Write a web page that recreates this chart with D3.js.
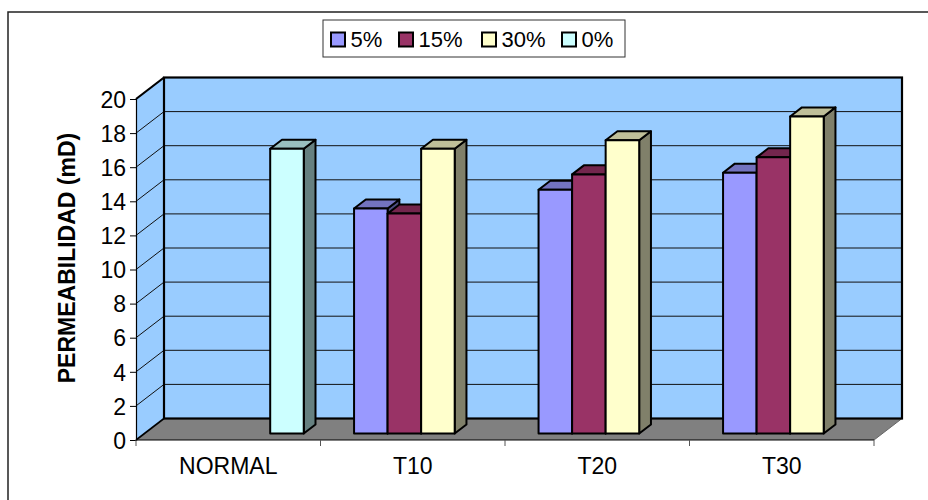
<!DOCTYPE html>
<html>
<head>
<meta charset="utf-8">
<script src="https://cdn.jsdelivr.net/npm/d3@7"></script>
<style>
  html, body { margin: 0; padding: 0; background: #fff; }
  svg { display: block; font-family: "Liberation Sans", Arial, sans-serif; }
</style>
</head>
<body>
<svg id="chart" width="928" height="500"></svg>
<script>
// Permeability by treatment, one series per concentration
const categories = ["NORMAL", "T10", "T20", "T30"];
const seriesNames = ["5%", "15%", "30%", "0%"];
const values5 = [null, 13.2, 14.3, 15.3];
const values15 = [null, 12.9, 15.2, 16.2];
const values30 = [null, 16.7, 17.2, 18.6];
const values0 = [16.7, null, null, null];
const yTicks = [0, 2, 4, 6, 8, 10, 12, 14, 16, 18, 20];
const yTitle = "PERMEABILIDAD (mD)";

const seriesValues = [values5, values15, values30, values0];
const seriesColors = [
  { front: "#9999FF", top: "#7373BF", side: "#4D4D80" },
  { front: "#993366", top: "#73264D", side: "#4D1A33" },
  { front: "#FFFFCC", top: "#BFBF99", side: "#80806A" },
  { front: "#CCFFFF", top: "#99BFBF", side: "#668080" }
];

const svg = d3.select("#chart");
const FONT = "'Liberation Sans', Arial, sans-serif";

// oblique depth of the plot box
const DX = 28, DY = 21.5;
// bar depth placement (fraction of box depth)
const BAR_FRONT = 0.30, BAR_DEPTH = 0.42;

const x = d3.scaleBand().domain(categories).range([136, 874]).paddingInner(0).paddingOuter(0);
const xs = d3.scaleBand().domain(seriesNames).range([0, x.bandwidth()]).paddingInner(0).paddingOuter(0.75);
const y = d3.scaleLinear().domain([0, 20]).range([440, 99]);

const x0 = x.range()[0], x1 = x.range()[1];
const poly = pts => pts.map(p => p.join(",")).join(" ");

// outer chart frame
svg.append("rect")
  .attr("x", 8).attr("y", 12).attr("width", 960).attr("height", 520)
  .attr("fill", "#fff").attr("stroke", "#222").attr("stroke-width", 1.5);

// floor
svg.append("polygon")
  .attr("points", poly([[x0, y(0)], [x0 + DX, y(0) - DY], [x1 + DX, y(0) - DY], [x1, y(0)]]))
  .attr("fill", "#808080").attr("stroke", "none");
svg.append("line")
  .attr("x1", x1).attr("y1", y(0)).attr("x2", x1 + DX).attr("y2", y(0) - DY)
  .attr("stroke", "#666").attr("stroke-width", 1);

// side wall
svg.append("polygon")
  .attr("points", poly([[x0, y(0)], [x0, y(20)], [x0 + DX, y(20) - DY], [x0 + DX, y(0) - DY]]))
  .attr("fill", "#99CCFF");

// back wall
svg.append("rect")
  .attr("x", x0 + DX).attr("y", y(20) - DY)
  .attr("width", x1 - x0).attr("height", y(0) - y(20))
  .attr("fill", "#99CCFF");

// gridlines on back wall and side wall
const grid = svg.append("g").attr("stroke", "#111").attr("stroke-width", 1);
grid.selectAll("line.back").data(yTicks.filter(v => v > 0 && v < 20)).join("line")
  .attr("class", "back")
  .attr("x1", x0 + DX).attr("x2", x1 + DX)
  .attr("y1", d => y(d) - DY).attr("y2", d => y(d) - DY);
grid.selectAll("line.side").data(yTicks.filter(v => v > 0)).join("line")
  .attr("class", "side")
  .attr("x1", x0).attr("x2", x0 + DX)
  .attr("y1", d => y(d)).attr("y2", d => y(d) - DY);

// wall edges
const edges = svg.append("g").attr("fill", "none").attr("stroke", "#000").attr("stroke-width", 2.2);
edges.append("rect")
  .attr("x", x0 + DX).attr("y", y(20) - DY)
  .attr("width", x1 - x0).attr("height", y(0) - y(20));
edges.append("line")
  .attr("x1", x0).attr("y1", y(20)).attr("x2", x0 + DX).attr("y2", y(20) - DY);
edges.append("line")
  .attr("x1", x0).attr("y1", y(0)).attr("x2", x0 + DX).attr("y2", y(0) - DY)
  .attr("stroke-width", 1.6);

// bars, painted left to right
const bars = [];
categories.forEach((c, ci) => {
  seriesNames.forEach((s, si) => {
    const v = seriesValues[si][ci];
    if (v == null) return;
    bars.push({ c, s, si, v });
  });
});

const fx = BAR_FRONT * DX, fy = BAR_FRONT * DY;
const dx = BAR_DEPTH * DX, dy = BAR_DEPTH * DY;
const barG = svg.append("g").attr("stroke", "#000").attr("stroke-width", 2).attr("stroke-linejoin", "round");
bars.forEach(b => {
  const xl = x(b.c) + xs(b.s) + fx;
  const xr = xl + xs.bandwidth();
  const yt = y(b.v) - fy;
  const yb = y(0) - fy;
  const col = seriesColors[b.si];
  const g = barG.append("g");
  g.append("polygon")
    .attr("points", poly([[xr, yt], [xr + dx, yt - dy], [xr + dx, yb - dy], [xr, yb]]))
    .attr("fill", col.side);
  g.append("polygon")
    .attr("points", poly([[xl, yt], [xl + dx, yt - dy], [xr + dx, yt - dy], [xr, yt]]))
    .attr("fill", col.top);
  g.append("rect")
    .attr("x", xl).attr("y", yt).attr("width", xr - xl).attr("height", yb - yt)
    .attr("fill", col.front);
});

// value axis
const yAxis = svg.append("g")
  .attr("transform", `translate(${x0},0)`)
  .call(d3.axisLeft(y).tickValues(yTicks).tickSize(6).tickPadding(4).tickFormat(d3.format("d")));
yAxis.select(".domain").attr("stroke", "#000").attr("stroke-width", 1.2);
yAxis.selectAll(".tick line").attr("stroke", "#000");
yAxis.selectAll(".tick text")
  .attr("font-family", FONT).attr("font-size", 23).attr("fill", "#000")
  .attr("dy", "0.36em");

// category axis
const xAxis = svg.append("g").attr("transform", `translate(0,${y(0)})`);
xAxis.append("line")
  .attr("x1", x0).attr("x2", x1).attr("y1", 0).attr("y2", 0)
  .attr("stroke", "#000").attr("stroke-width", 1.2);
const bounds = categories.map(c => x(c)).concat([x1]);
xAxis.selectAll("line.tick").data(bounds).join("line")
  .attr("class", "tick")
  .attr("x1", d => d).attr("x2", d => d).attr("y1", 0).attr("y2", 6)
  .attr("stroke", "#555").attr("stroke-width", 1);
xAxis.selectAll("text").data(categories).join("text")
  .attr("x", d => x(d) + x.bandwidth() / 2)
  .attr("y", 33.5)
  .attr("text-anchor", "middle")
  .attr("font-family", FONT).attr("font-size", 23).attr("fill", "#000")
  .text(d => d);

// axis title
svg.append("text")
  .attr("transform", "translate(75,258) rotate(-90)")
  .attr("text-anchor", "middle")
  .attr("font-family", FONT).attr("font-size", 23).attr("font-weight", "bold")
  .attr("fill", "#000")
  .text(yTitle);

// legend
const legend = svg.append("g");
legend.append("rect")
  .attr("x", 323).attr("y", 20).attr("width", 302).attr("height", 37)
  .attr("fill", "#fff").attr("stroke", "#333").attr("stroke-width", 1);
const legendX = [331, 399, 482, 562];
const items = legend.selectAll("g.item").data(seriesNames).join("g")
  .attr("class", "item")
  .attr("transform", (d, i) => `translate(${legendX[i]},0)`);
items.append("rect")
  .attr("x", 0).attr("y", 32.5).attr("width", 14).attr("height", 14)
  .attr("fill", (d, i) => seriesColors[i].front)
  .attr("stroke", "#000").attr("stroke-width", 2);
items.append("text")
  .attr("x", 19.5).attr("y", 46.5)
  .attr("font-family", FONT).attr("font-size", 22).attr("fill", "#000")
  .text(d => d);
</script>
</body>
</html>
